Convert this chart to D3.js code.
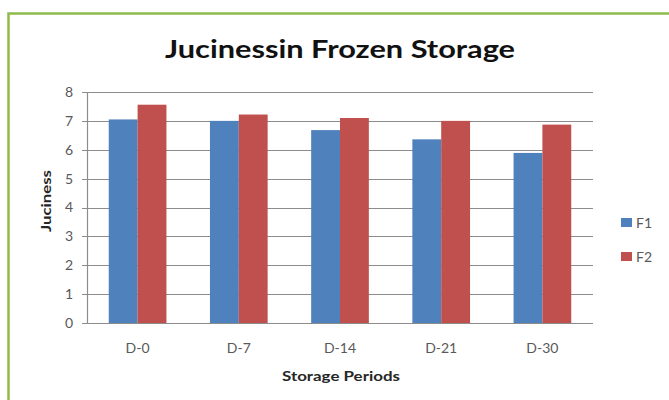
<!DOCTYPE html>
<html>
<head>
<meta charset="utf-8">
<script src="https://cdn.jsdelivr.net/npm/d3@7"></script>
<style>
  html, body { margin: 0; padding: 0; background: #fff; }
  svg { display: block; }
</style>
</head>
<body>
<svg id="chart" width="669" height="400"></svg>
<script>
// Juiciness scores per storage period
const categories = ["D-0", "D-7", "D-14", "D-21", "D-30"];
const seriesNames = ["F1", "F2"];
const f1Values = [7.05, 7.0, 6.68, 6.36, 5.89];
const f2Values = [7.56, 7.22, 7.1, 7.0, 6.87];
const yTicks = [0, 1, 2, 3, 4, 5, 6, 7, 8];
const colors = ["#4f81bd", "#c0504d"];

const rows = categories.map((c, i) => ({ cat: c, values: [f1Values[i], f2Values[i]] }));

const svg = d3.select("#chart");
const font = "Lato, 'Open Sans', sans-serif";
const labelColor = "#595959";

// outer frame
svg.append("rect")
  .attr("x", 8.5).attr("y", 13.5)
  .attr("width", 700).attr("height", 420)
  .attr("fill", "#fff")
  .attr("stroke", "#8fba4c").attr("stroke-width", 2.5);

const plot = { left: 87, right: 593, top: 92, bottom: 323 };

const x = d3.scaleBand().domain(categories).range([plot.left, plot.right]).paddingInner(0.43).paddingOuter(0.215);
const xs = d3.scaleBand().domain(seriesNames).range([0, x.bandwidth()]);
const y = d3.scaleLinear().domain([0, 8]).range([plot.bottom, plot.top]);

// gridlines with outward ticks
svg.append("g")
  .selectAll("line").data(yTicks).join("line")
  .attr("x1", plot.left - 5).attr("x2", plot.right)
  .attr("y1", d => Math.round(y(d)) + 0.5).attr("y2", d => Math.round(y(d)) + 0.5)
  .attr("stroke", "#8c8c8c").attr("stroke-width", 1.2);

// vertical axis line
svg.append("line")
  .attr("x1", plot.left + 0.5).attr("x2", plot.left + 0.5)
  .attr("y1", plot.top).attr("y2", plot.bottom)
  .attr("stroke", "#8c8c8c").attr("stroke-width", 1.2);

// y tick labels
svg.append("g")
  .selectAll("text").data(yTicks).join("text")
  .attr("x", 73).attr("y", d => y(d))
  .attr("dy", "0.35em").attr("text-anchor", "end")
  .attr("font-family", font).attr("font-size", 14).attr("fill", labelColor)
  .text(d => d);

// bars
const groups = svg.append("g").selectAll("g").data(rows).join("g")
  .attr("transform", d => `translate(${x(d.cat)},0)`);
groups.selectAll("rect")
  .data(d => d.values.map((v, i) => ({ name: seriesNames[i], v, i })))
  .join("rect")
  .attr("x", d => xs(d.name))
  .attr("width", xs.bandwidth())
  .attr("y", d => y(d.v))
  .attr("height", d => y(0) - y(d.v))
  .attr("fill", d => colors[d.i]);

// x tick labels
svg.append("g")
  .selectAll("text").data(categories).join("text")
  .attr("x", d => x(d) + x.bandwidth() / 2).attr("y", 348)
  .attr("dy", "0.35em").attr("text-anchor", "middle")
  .attr("font-family", font).attr("font-size", 14).attr("fill", labelColor)
  .text(d => d);

// axis titles
svg.append("text")
  .attr("x", (plot.left + plot.right) / 2 + 1).attr("y", 376)
  .attr("dy", "0.35em").attr("text-anchor", "middle")
  .attr("font-family", font).attr("font-size", 14).attr("font-weight", "bold").attr("fill", "#262626")
  .attr("textLength", 118).attr("lengthAdjust", "spacingAndGlyphs")
  .text("Storage Periods");

svg.append("text")
  .attr("transform", `translate(46,201) rotate(-90)`)
  .attr("dy", "0.35em").attr("text-anchor", "middle")
  .attr("font-family", font).attr("font-size", 13.5).attr("font-weight", "bold").attr("fill", "#262626")
  .attr("textLength", 62).attr("lengthAdjust", "spacingAndGlyphs")
  .text("Juciness");

// chart title
svg.append("text")
  .attr("x", 340).attr("y", 58)
  .attr("text-anchor", "middle")
  .attr("font-family", font).attr("font-size", 25).attr("font-weight", "bold").attr("fill", "#111")
  .attr("textLength", 350).attr("lengthAdjust", "spacingAndGlyphs")
  .text("Jucinessin Frozen Storage");

// legend
const legend = svg.append("g").selectAll("g").data(seriesNames).join("g")
  .attr("transform", (d, i) => `translate(621,${223 + i * 34})`);
legend.append("rect")
  .attr("x", 0).attr("y", -5).attr("width", 11).attr("height", 9)
  .attr("fill", (d, i) => colors[i]);
legend.append("text")
  .attr("x", 15).attr("y", 0).attr("dy", "0.35em")
  .attr("font-family", font).attr("font-size", 14).attr("fill", labelColor)
  .text(d => d);
</script>
</body>
</html>
